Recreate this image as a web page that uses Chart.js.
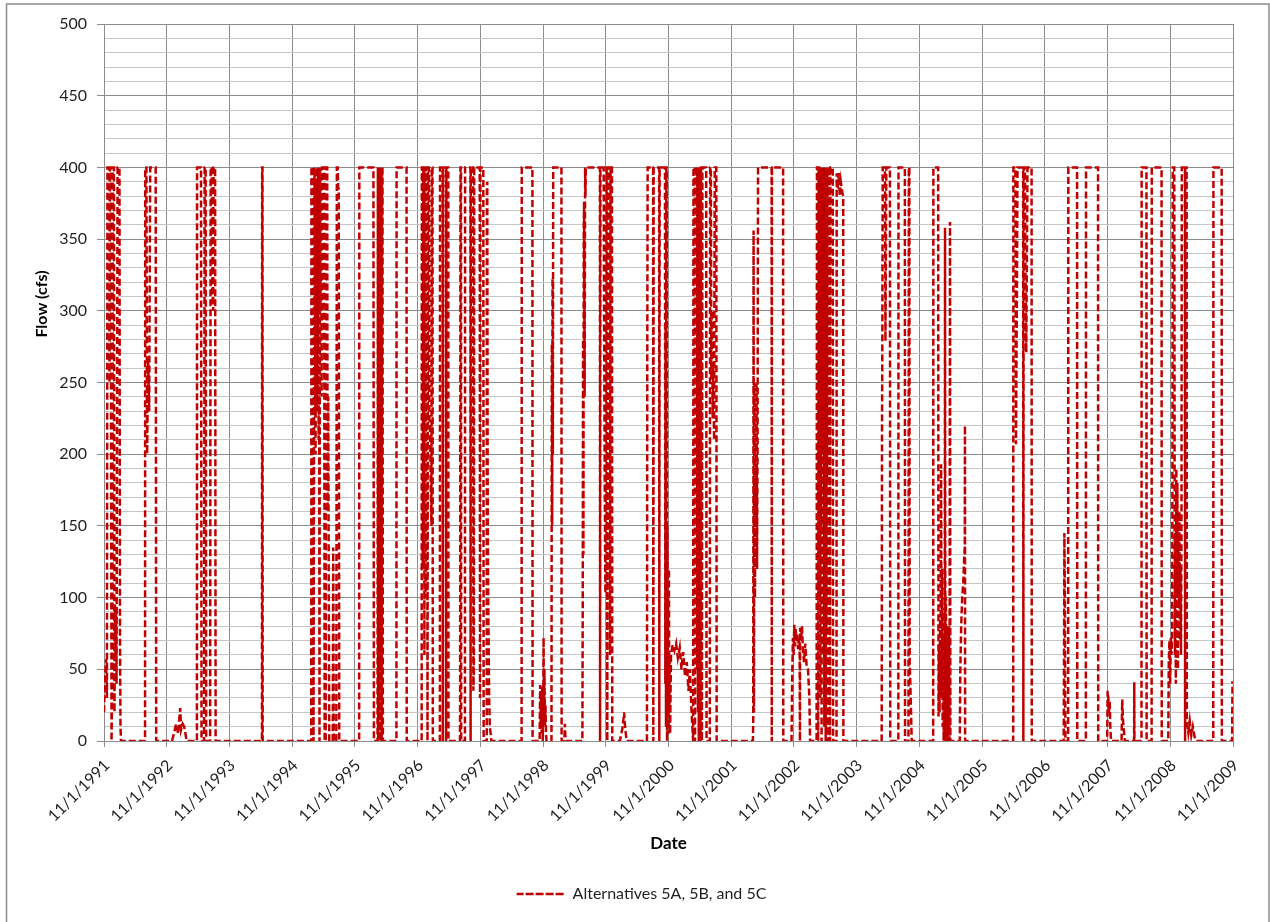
<!DOCTYPE html>
<html>

<head>
  <title>Flow - Alternatives 5A, 5B, and 5C</title>
  <script src="https://cdn.jsdelivr.net/npm/chart.js@4"></script>
  <style>
    body {
      margin: 0;
      background-color: #ffffff;
    }

    #caixa {
      width: 1270px;
      height: 922px;
    }
  </style>
</head>

<body>
  <div id="caixa">
    <canvas id="chartflow" width="1270" height="922"></canvas>
  </div>
</body>
</html>
<script>
  // breakpoints of the daily series
  var dates = [
    // WY1992
    '1991-11-01', '1991-11-07', '1991-11-13', '1991-11-18', '1991-11-21', '1991-11-30', '1991-12-03', '1991-12-06',
    '1991-12-10', '1991-12-15', '1991-12-20', '1991-12-23', '1991-12-29', '1992-01-01', '1992-01-04', '1992-01-07',
    '1992-01-10', '1992-01-13', '1992-01-19', '1992-01-30', '1992-02-02', '1992-02-05', '1992-02-08', '1992-06-27',
    '1992-06-28', '1992-07-05', '1992-07-09', '1992-07-15', '1992-07-21', '1992-07-27', '1992-08-28', '1992-08-31',
    // WY1993
    '1992-12-01', '1992-12-14', '1992-12-25', '1993-01-06', '1993-01-12', '1993-01-18', '1993-01-23', '1993-02-01',
    '1993-02-10', '1993-02-19', '1993-02-24', '1993-04-25', '1993-04-26', '1993-05-19', '1993-05-22', '1993-06-06',
    '1993-06-09', '1993-06-15', '1993-06-18', '1993-07-11', '1993-07-14', '1993-07-20', '1993-07-23', '1993-07-29',
    '1993-07-31', '1993-08-09', '1993-08-12',
    // WY1994
    '1994-05-09', '1994-05-10', '1994-05-12', '1994-05-13',
    // WY1995
    '1995-02-20', '1995-02-21', '1995-03-02', '1995-03-05', '1995-03-11', '1995-03-17', '1995-03-20', '1995-03-23',
    '1995-03-26', '1995-03-29', '1995-04-01', '1995-04-04', '1995-04-06', '1995-04-09', '1995-04-12', '1995-04-15',
    '1995-04-18', '1995-04-21', '1995-04-24', '1995-05-06', '1995-05-09', '1995-05-15', '1995-05-18', '1995-05-24',
    '1995-05-26', '1995-05-30', '1995-06-02', '1995-06-05', '1995-06-25', '1995-06-28', '1995-07-01', '1995-07-16',
    '1995-07-19', '1995-07-24', '1995-07-27', '1995-07-30', '1995-08-02',
    // WY1996
    '1995-11-26', '1995-11-27', '1996-02-17', '1996-02-20', '1996-03-12', '1996-03-14', '1996-03-16', '1996-03-18',
    '1996-03-20', '1996-03-22', '1996-03-24', '1996-03-26', '1996-03-28', '1996-03-30', '1996-04-01', '1996-04-03',
    '1996-04-05', '1996-04-07', '1996-04-10', '1996-04-12', '1996-06-30', '1996-07-01', '1996-08-28', '1996-08-29',
    // WY1997
    '1996-11-24', '1996-11-25', '1996-11-28', '1996-11-30', '1996-12-02', '1996-12-04', '1996-12-08', '1996-12-10',
    '1996-12-12', '1996-12-16', '1996-12-18', '1996-12-21', '1996-12-26', '1996-12-28', '1996-12-31', '1997-01-06',
    '1997-01-08', '1997-01-12', '1997-01-16', '1997-01-20', '1997-01-22', '1997-01-26', '1997-01-28', '1997-03-10',
    '1997-03-11', '1997-03-26', '1997-03-27', '1997-03-29', '1997-04-14', '1997-04-15', '1997-04-17', '1997-04-28',
    '1997-04-29', '1997-07-05', '1997-07-06', '1997-07-08', '1997-07-11', '1997-07-12', '1997-08-03', '1997-08-04',
    '1997-09-04', '1997-09-05', '1997-09-06', '1997-09-20', '1997-09-21', '1997-09-24', '1997-09-26', '1997-10-28',
    '1997-10-30',
    // WY1998
    '1997-11-01', '1997-11-18', '1997-11-20', '1997-12-08', '1997-12-09', '1997-12-11', '1997-12-13', '1997-12-15',
    '1997-12-18', '1997-12-22', '1997-12-26', '1997-12-31', '1998-01-04', '1998-06-29', '1998-06-30', '1998-08-31',
    '1998-09-01', '1998-10-12', '1998-10-15', '1998-10-18', '1998-10-21', '1998-10-24', '1998-10-27', '1998-10-30',
    // WY1999
    '1998-11-02', '1998-11-04', '1998-11-06', '1998-11-09', '1998-11-12', '1998-11-15', '1998-11-18', '1998-11-21',
    '1998-12-20', '1998-12-22', '1998-12-24', '1998-12-26', '1998-12-28', '1998-12-30', '1999-02-16', '1999-02-17',
    '1999-03-05', '1999-03-08', '1999-03-11', '1999-03-14', '1999-06-18', '1999-06-20', '1999-06-22', '1999-06-24',
    '1999-06-26', '1999-06-28', '1999-07-01', '1999-07-04', '1999-07-06', '1999-07-08', '1999-09-28', '1999-09-29',
    '1999-10-01', '1999-10-20', '1999-10-22', '1999-10-26', '1999-10-30',
    // WY2000
    '1999-11-02', '1999-11-06', '1999-11-09', '1999-11-10', '1999-11-13', '1999-11-25', '1999-11-26', '1999-11-29',
    '1999-12-07', '1999-12-09', '2000-01-22', '2000-02-05', '2000-02-12', '2000-02-16', '2000-02-20', '2000-02-26',
    '2000-03-02', '2000-06-28', '2000-06-30', '2000-07-02', '2000-08-03', '2000-08-04', '2000-08-06', '2000-09-07',
    '2000-09-08', '2000-09-10', '2000-10-11', '2000-10-13', '2000-10-15', '2000-10-17', '2000-10-19', '2000-10-21',
    '2000-10-23', '2000-10-25', '2000-10-27', '2000-10-29',
    // WY2001
    '2000-11-01', '2000-11-03', '2000-11-05', '2000-11-08', '2000-11-10', '2000-11-15', '2000-11-25', '2000-12-05',
    '2000-12-15', '2000-12-25', '2001-01-05', '2001-01-15', '2001-01-25', '2001-02-05', '2001-02-15', '2001-02-25',
    '2001-03-05', '2001-03-15', '2001-03-24', '2001-03-26', '2001-04-02', '2001-04-04', '2001-04-07', '2001-04-14',
    '2001-04-16', '2001-04-18', '2001-04-21', '2001-04-23', '2001-04-26', '2001-04-28', '2001-05-01', '2001-05-03',
    '2001-05-06', '2001-05-08', '2001-05-12', '2001-05-14', '2001-05-17', '2001-06-08', '2001-06-10', '2001-06-29',
    '2001-07-01', '2001-07-05', '2001-07-08', '2001-07-12', '2001-07-16', '2001-07-20', '2001-07-24', '2001-07-28',
    '2001-08-06', '2001-08-08',
    // WY2002
    '2002-03-07', '2002-03-09', '2002-03-11', '2002-03-13', '2002-03-16', '2002-03-19', '2002-03-22', '2002-03-25',
    '2002-03-28', '2002-03-31', '2002-04-03', '2002-04-06', '2002-06-24', '2002-06-25', '2002-06-26', '2002-08-30',
    '2002-08-31',
    // WY2003
    '2002-10-18', '2002-10-22', '2002-10-26', '2002-10-30', '2002-11-03', '2002-11-07', '2002-11-11', '2002-11-15',
    '2002-11-20', '2002-11-25', '2002-11-30', '2002-12-04', '2002-12-06', '2002-12-07', '2002-12-12', '2002-12-18',
    '2002-12-24', '2002-12-30', '2003-01-06', '2003-01-14', '2003-01-22', '2003-01-30', '2003-02-03', '2003-03-13',
    '2003-03-15', '2003-03-20', '2003-03-22', '2003-03-24', '2003-03-28', '2003-03-30', '2003-04-01', '2003-04-03',
    '2003-04-05', '2003-04-07', '2003-04-09', '2003-04-11', '2003-04-13', '2003-04-15', '2003-04-17', '2003-04-19',
    '2003-04-21', '2003-04-23', '2003-04-25', '2003-04-27', '2003-04-29', '2003-05-01', '2003-05-03', '2003-05-05',
    '2003-05-07', '2003-05-09', '2003-05-11', '2003-05-13', '2003-05-15', '2003-05-17', '2003-05-19', '2003-05-29',
    '2003-05-30', '2003-06-01', '2003-06-15', '2003-06-17', '2003-07-07', '2003-07-08', '2003-07-14', '2003-07-20',
    '2003-07-26', '2003-08-01', '2003-08-10', '2003-08-15', '2003-08-16',
    // WY2004
    '2004-03-26', '2004-03-28', '2004-03-30', '2004-04-01', '2004-04-14', '2004-04-17', '2004-04-22', '2004-05-13',
    '2004-05-15', '2004-07-01', '2004-07-02', '2004-08-08', '2004-08-09', '2004-08-29', '2004-08-31', '2004-09-03',
    '2004-09-05', '2004-09-09', '2004-09-13', '2004-09-17',
    // WY2005
    '2005-01-20', '2005-01-21', '2005-02-18', '2005-02-20', '2005-02-23', '2005-02-26', '2005-03-01', '2005-03-04',
    '2005-03-07', '2005-03-10', '2005-03-13', '2005-03-16', '2005-03-19', '2005-03-22', '2005-03-25', '2005-03-28',
    '2005-03-30', '2005-04-01', '2005-04-04', '2005-04-07', '2005-04-10', '2005-04-13', '2005-04-16', '2005-04-19',
    '2005-04-22', '2005-04-25', '2005-04-28', '2005-04-30', '2005-06-24', '2005-06-27', '2005-07-02', '2005-07-08',
    '2005-07-14', '2005-07-20', '2005-07-23', '2005-07-24', '2005-07-25',
    // WY2006
    '2006-05-01', '2006-05-02', '2006-05-14', '2006-05-17', '2006-05-22', '2006-05-26', '2006-06-28', '2006-06-29',
    '2006-07-01', '2006-07-08', '2006-07-11', '2006-07-16', '2006-07-20', '2006-07-23', '2006-08-16', '2006-08-17',
    // WY2007
    '2007-02-19', '2007-02-21', '2007-02-23', '2007-02-26', '2007-03-01', '2007-03-17', '2007-03-18', '2007-05-08',
    '2007-05-09', '2007-06-28', '2007-06-29', '2007-09-07', '2007-09-08', '2007-10-30',
    // WY2008
    '2007-11-02', '2007-11-06', '2007-11-10', '2007-11-14', '2007-11-18', '2007-11-22', '2008-01-22', '2008-01-26',
    '2008-01-30', '2008-02-04', '2008-02-10', '2008-04-04', '2008-04-05', '2008-04-06', '2008-05-17', '2008-05-18',
    '2008-06-15', '2008-06-16', '2008-07-15', '2008-07-16', '2008-09-11', '2008-09-12', '2008-10-20', '2008-10-23',
    '2008-10-27', '2008-10-31',
    // WY2009
    '2008-11-04', '2008-11-08', '2008-11-12', '2008-11-15', '2008-11-24', '2008-11-26', '2008-11-28', '2008-11-30',
    '2008-12-03', '2008-12-06', '2008-12-09', '2008-12-12', '2008-12-15', '2008-12-18', '2008-12-21', '2008-12-24',
    '2008-12-27', '2008-12-30', '2009-01-02', '2009-01-05', '2009-01-07', '2009-01-25', '2009-01-26', '2009-01-27',
    '2009-02-04', '2009-02-05', '2009-02-14', '2009-02-22', '2009-03-03', '2009-03-12', '2009-03-22', '2009-04-02',
    '2009-07-09', '2009-07-10', '2009-08-27', '2009-08-28', '2009-10-27', '2009-10-29', '2009-10-31'
  ];

  var flow = [
    // WY1992
    20, 45, 57, 30, 400, 400, 250, 400,
    400, 0, 60, 400, 400, 20, 95, 60,
    90, 40, 400, 400, 80, 10, 0, 0,
    400, 400, 200, 265, 230, 400, 400, 0,
    // WY1993
    0, 6, 12, 5, 15, 23, 8, 12,
    10, 4, 0, 0, 400, 400, 0, 0,
    400, 400, 0, 0, 400, 400, 315, 300,
    400, 400, 0,
    // WY1994
    0, 400, 400, 0,
    // WY1995
    0, 400, 400, 0, 400, 200, 390, 230,
    400, 270, 400, 210, 380, 0, 400, 300,
    400, 240, 400, 400, 0, 0, 400, 400,
    160, 240, 105, 0, 0, 135, 0, 0,
    400, 400, 385, 385, 0,
    // WY1996
    0, 400, 400, 0, 0, 400, 0, 400,
    20, 400, 0, 400, 50, 400, 0, 400,
    0, 400, 400, 0, 0, 400, 400, 0,
    // WY1997
    0, 400, 400, 120, 150, 400, 400, 60,
    400, 400, 100, 400, 400, 0, 400, 400,
    225, 220, 175, 150, 400, 400, 0, 0,
    400, 400, 0, 400, 400, 0, 400, 400,
    0, 0, 30, 400, 400, 0, 0, 400,
    400, 0, 400, 400, 35, 50, 400, 400,
    30,
    // WY1998
    400, 400, 0, 0, 387, 390, 200, 121,
    80, 30, 10, 5, 0, 0, 400, 400,
    0, 0, 39, 10, 35, 5, 38, 0,
    // WY1999
    20, 72, 15, 50, 10, 25, 5, 0,
    0, 277, 150, 323, 200, 400, 400, 0,
    0, 12, 3, 0, 0, 92, 280, 130,
    360, 376, 240, 400, 380, 400, 400, 0,
    400, 400, 311, 180, 103,
    // WY2000
    250, 400, 400, 0, 400, 400, 60, 400,
    400, 0, 0, 8, 15, 20, 12, 5,
    0, 0, 276, 400, 400, 0, 400, 400,
    0, 400, 400, 40, 292, 10, 400, 400,
    0, 150, 30, 100,
    // WY2001
    5, 120, 20, 60, 5, 60, 67, 63,
    68, 58, 65, 50, 62, 45, 55, 35,
    50, 20, 0, 400, 400, 0, 400, 400,
    50, 400, 20, 400, 0, 400, 10, 400,
    0, 400, 400, 0, 400, 400, 0, 0,
    400, 400, 252, 300, 225, 260, 210, 400,
    400, 0,
    // WY2002
    0, 15, 356, 20, 250, 100, 190, 150,
    250, 120, 200, 400, 400, 0, 400, 400,
    0,
    // WY2003
    0, 45, 72, 60, 81, 66, 78, 70,
    75, 64, 72, 68, 0, 79, 70, 80,
    62, 55, 68, 52, 50, 30, 0, 0,
    400, 400, 0, 400, 400, 100, 400, 30,
    400, 150, 400, 0, 400, 200, 400, 60,
    400, 250, 400, 10, 400, 120, 400, 0,
    350, 80, 400, 180, 400, 0, 400, 400,
    0, 400, 400, 0, 0, 396, 385, 396,
    380, 390, 382, 380, 0,
    // WY2004
    0, 217, 284, 400, 400, 279, 400, 400,
    0, 0, 400, 400, 0, 0, 400, 400,
    55, 40, 20, 0,
    // WY2005
    0, 400, 400, 17, 65, 20, 85, 40,
    193, 30, 120, 10, 70, 0, 90, 5,
    358, 0, 100, 40, 80, 0, 60, 10,
    80, 0, 362, 0, 0, 50, 80, 100,
    110, 130, 135, 220, 0,
    // WY2006
    0, 400, 400, 207, 300, 400, 400, 0,
    400, 400, 327, 271, 340, 400, 400, 0,
    // WY2007
    0, 55, 145, 100, 0, 0, 400, 400,
    0, 0, 400, 400, 0, 0,
    // WY2008
    35, 30, 20, 28, 8, 0, 0, 29,
    15, 8, 0, 0, 41, 0, 0, 400,
    400, 0, 0, 400, 400, 0, 0, 55,
    70, 40,
    // WY2009
    72, 60, 75, 400, 400, 190, 60, 145,
    40, 190, 100, 180, 50, 140, 97, 160,
    70, 120, 60, 150, 400, 400, 0, 400,
    400, 15, 6, 14, 4, 10, 3, 0,
    0, 400, 400, 0, 0, 41, 41
  ];

  var yearTicks = [
    '11/1/1991', '11/1/1992', '11/1/1993', '11/1/1994', '11/1/1995', '11/1/1996', '11/1/1997',
    '11/1/1998', '11/1/1999', '11/1/2000', '11/1/2001', '11/1/2002', '11/1/2003', '11/1/2004',
    '11/1/2005', '11/1/2006', '11/1/2007', '11/1/2008', '11/1/2009'
  ];

  var nomeSerie = 'Alternatives 5A, 5B, and 5C';

  function paraData(s) {
    var p = s.split('-');
    return Date.UTC(+p[0], +p[1] - 1, +p[2]);
  }

  function tickData(s) {
    var p = s.split('/');
    return Date.UTC(+p[2], +p[0] - 1, +p[1]);
  }

  var pontos = dates.map(function (d, i) {
    return { x: paraData(d), y: flow[i] };
  });
  var tickValores = yearTicks.map(tickData);

  var corGrade = '#8c8c8c';
  var corGradeFina = '#c6c6c6';
  var corTexto = '#1f1f1f';

  Chart.defaults.font.family = 'Lato, "Open Sans", sans-serif';
  Chart.defaults.color = corTexto;

  // frame around the whole chart + the y title placed like the original
  var moldura = {
    id: 'moldura',
    beforeDraw: function (chart) {
      var ctx = chart.ctx;
      ctx.save();
      ctx.fillStyle = '#ffffff';
      ctx.fillRect(0, 0, chart.width, chart.height);
      ctx.strokeStyle = '#8c8c8c';
      ctx.lineWidth = 1.5;
      ctx.strokeRect(6.5, 4, chart.width + 10 - 17.5, chart.height + 20);
      ctx.restore();
    },
    afterDraw: function (chart) {
      var ctx = chart.ctx;
      ctx.save();
      ctx.translate(42, 304);
      ctx.rotate(-Math.PI / 2);
      ctx.font = 'bold 16px Lato';
      ctx.fillStyle = '#000000';
      ctx.textAlign = 'center';
      ctx.textBaseline = 'middle';
      ctx.fillText('Flow (cfs)', 0, 0);
      ctx.restore();
    },
    afterLayout: function (chart) {
      chart.legend.left += 21;
      chart.legend.right += 21;
    }
  };

  var config = {
    type: 'line',
    data: {
      datasets: [{
        label: nomeSerie,
        data: pontos,
        borderColor: '#c00000',
        backgroundColor: '#c00000',
        borderWidth: 2.5,
        borderDash: [7, 3],
        pointRadius: 0,
        tension: 0,
        fill: false
      }]
    },
    options: {
      responsive: false,
      animation: false,
      events: [],
      layout: {
        padding: { left: 8, top: 24, right: 37, bottom: 10 }
      },
      plugins: {
        tooltip: { enabled: false },
        legend: {
          position: 'bottom',
          labels: {
            boxWidth: 48,
            boxHeight: 0,
            padding: 10,
            color: corTexto,
            font: { size: 16 }
          }
        }
      },
      scales: {
        x: {
          type: 'linear',
          min: tickValores[0],
          max: tickValores[tickValores.length - 1],
          afterBuildTicks: function (scale) {
            scale.ticks = tickValores.map(function (v) { return { value: v }; });
          },
          afterFit: function (scale) {
            scale.height = 135;
          },
          grid: {
            color: corGrade,
            tickColor: corGrade,
            tickLength: 6
          },
          border: { color: corGrade },
          ticks: {
            autoSkip: false,
            minRotation: 45,
            maxRotation: 45,
            padding: 9,
            labelOffset: 3,
            color: corTexto,
            font: { size: 16 },
            callback: function (v, i) {
              return yearTicks[i];
            }
          },
          title: {
            display: true,
            text: 'Date',
            color: '#000000',
            font: { size: 17, weight: 'bold' },
            padding: { top: 0, bottom: 22 }
          }
        },
        y: {
          min: 0,
          max: 500,
          afterFit: function (scale) {
            scale.width = 96;
          },
          grid: {
            color: function (ctx) {
              return ctx.tick && ctx.tick.value % 50 === 0 ? corGrade : corGradeFina;
            },
            tickColor: function (ctx) {
              return ctx.tick && ctx.tick.value % 50 === 0 ? corGrade : 'rgba(0,0,0,0)';
            },
            tickLength: 7
          },
          border: { color: corGrade },
          ticks: {
            stepSize: 10,
            autoSkip: false,
            padding: 10,
            color: corTexto,
            font: { size: 16 },
            callback: function (v) {
              return v % 50 === 0 ? v : '';
            }
          }
        }
      }
    },
    plugins: [moldura]
  };

  var chartFlow = new Chart(document.getElementById('chartflow'), config);
</script>
